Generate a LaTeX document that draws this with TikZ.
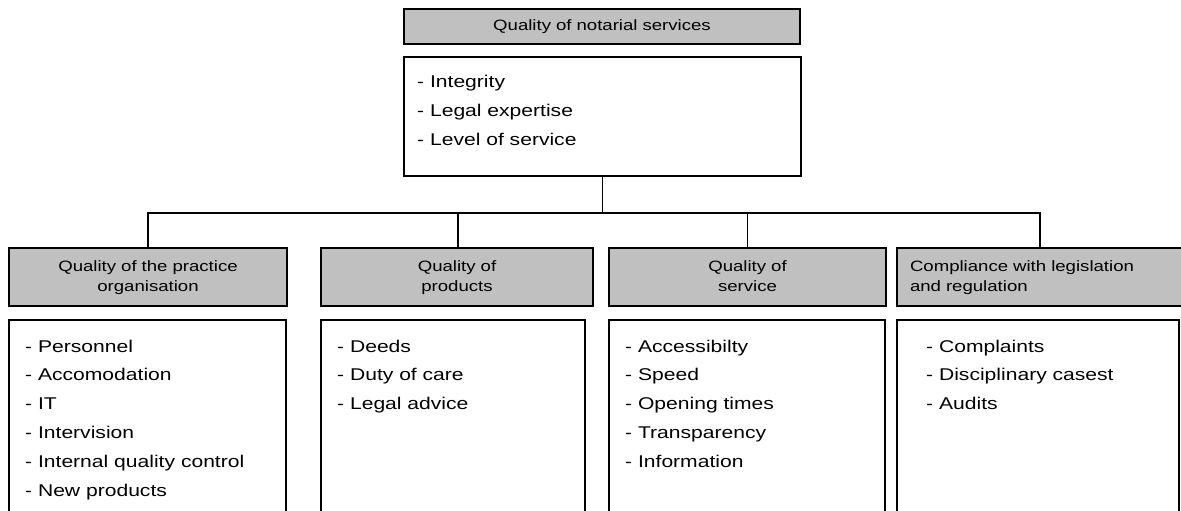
\documentclass[tikz,border=0pt]{standalone}
\usepackage{fontspec}
\setmainfont{Liberation Sans}[FakeStretch=1.24]
\definecolor{hdrgray}{RGB}{192,192,192}
\newcommand\bitem[1]{\hbox{-\ #1}}
\begin{document}
\begin{tikzpicture}[x=1pt,y=-1pt,
  hdr/.style={draw, fill=hdrgray, line width=1.3pt, inner sep=0pt, font=\fontsize{15}{20}\selectfont, align=center, minimum height=58pt},
  listbox/.style={draw, line width=1.3pt, inner sep=0pt, minimum height=220pt},
  listtext/.style={anchor=base west, inner sep=0pt, font=\fontsize{17}{28.8}\selectfont},
  link/.style={line width=1.3pt}]
\useasboundingbox (0,0) rectangle (1181,511);
\clip (0,0) rectangle (1181,511);
% top
\node[hdr, minimum width=396pt, minimum height=35pt, text width=380pt] (top) at (602,26.5) {\strut Quality of notarial services};
\node[listbox, minimum width=397pt, minimum height=119pt] (main) at (602.5,116.5) {};
\node[listtext] (maintext) at (417,88) {\vtop{\baselineskip=29pt\bitem{Integrity}\bitem{Legal expertise}\bitem{Level of service}}};
% headers
\node[hdr, minimum width=278pt, text width=260pt] (h1) at (148,277) {\strut Quality of the practice\\\strut organisation};
\node[hdr, minimum width=272pt, text width=260pt] (h2) at (457,277) {\strut Quality of\\\strut products};
\node[hdr, minimum width=277pt, text width=260pt] (h3) at (747.5,277) {\strut Quality of\\\strut service};
\node[hdr, align=left, minimum width=293pt, text width=267pt] (h4) at (1043.5,277) {\strut Compliance with legislation\\\strut and regulation};
% content boxes
\node[listbox, minimum width=277pt] (c1) at (147.5,430) {};
\node[listbox, minimum width=264pt] (c2) at (453,430) {};
\node[listbox, minimum width=276pt] (c3) at (747,430) {};
\node[listbox, minimum width=282pt] (c4) at (1038,430) {};
\node[listtext] (t1) at (25,352) {\vtop{\baselineskip=28.8pt\bitem{Personnel}\bitem{Accomodation}\bitem{IT}\bitem{Intervision}\bitem{Internal quality control}\bitem{New products}}};
\node[listtext] (t2) at (337,352) {\vtop{\baselineskip=28.8pt\bitem{Deeds}\bitem{Duty of care}\bitem{Legal advice}}};
\node[listtext] (t3) at (625,352) {\vtop{\baselineskip=28.8pt\bitem{Accessibilty}\bitem{Speed}\bitem{Opening times}\bitem{Transparency}\bitem{Information}}};
\node[listtext] (t4) at (926,352) {\vtop{\baselineskip=28.8pt\bitem{Complaints}\bitem{Disciplinary casest}\bitem{Audits}}};
% connectors
\coordinate (bus) at (602.5,213);
\draw[link] (main.south) -- (bus);
\draw[link] (h1.north) |- (bus);
\draw[link] (bus) -| ([xshift=-3.5pt]h4.north);
\draw[link] ([xshift=1pt]h2.north) -- ([xshift=1pt]h2.north |- bus);
\draw[link] (h3.north) -- (h3.north |- bus);
\end{tikzpicture}
\end{document}
